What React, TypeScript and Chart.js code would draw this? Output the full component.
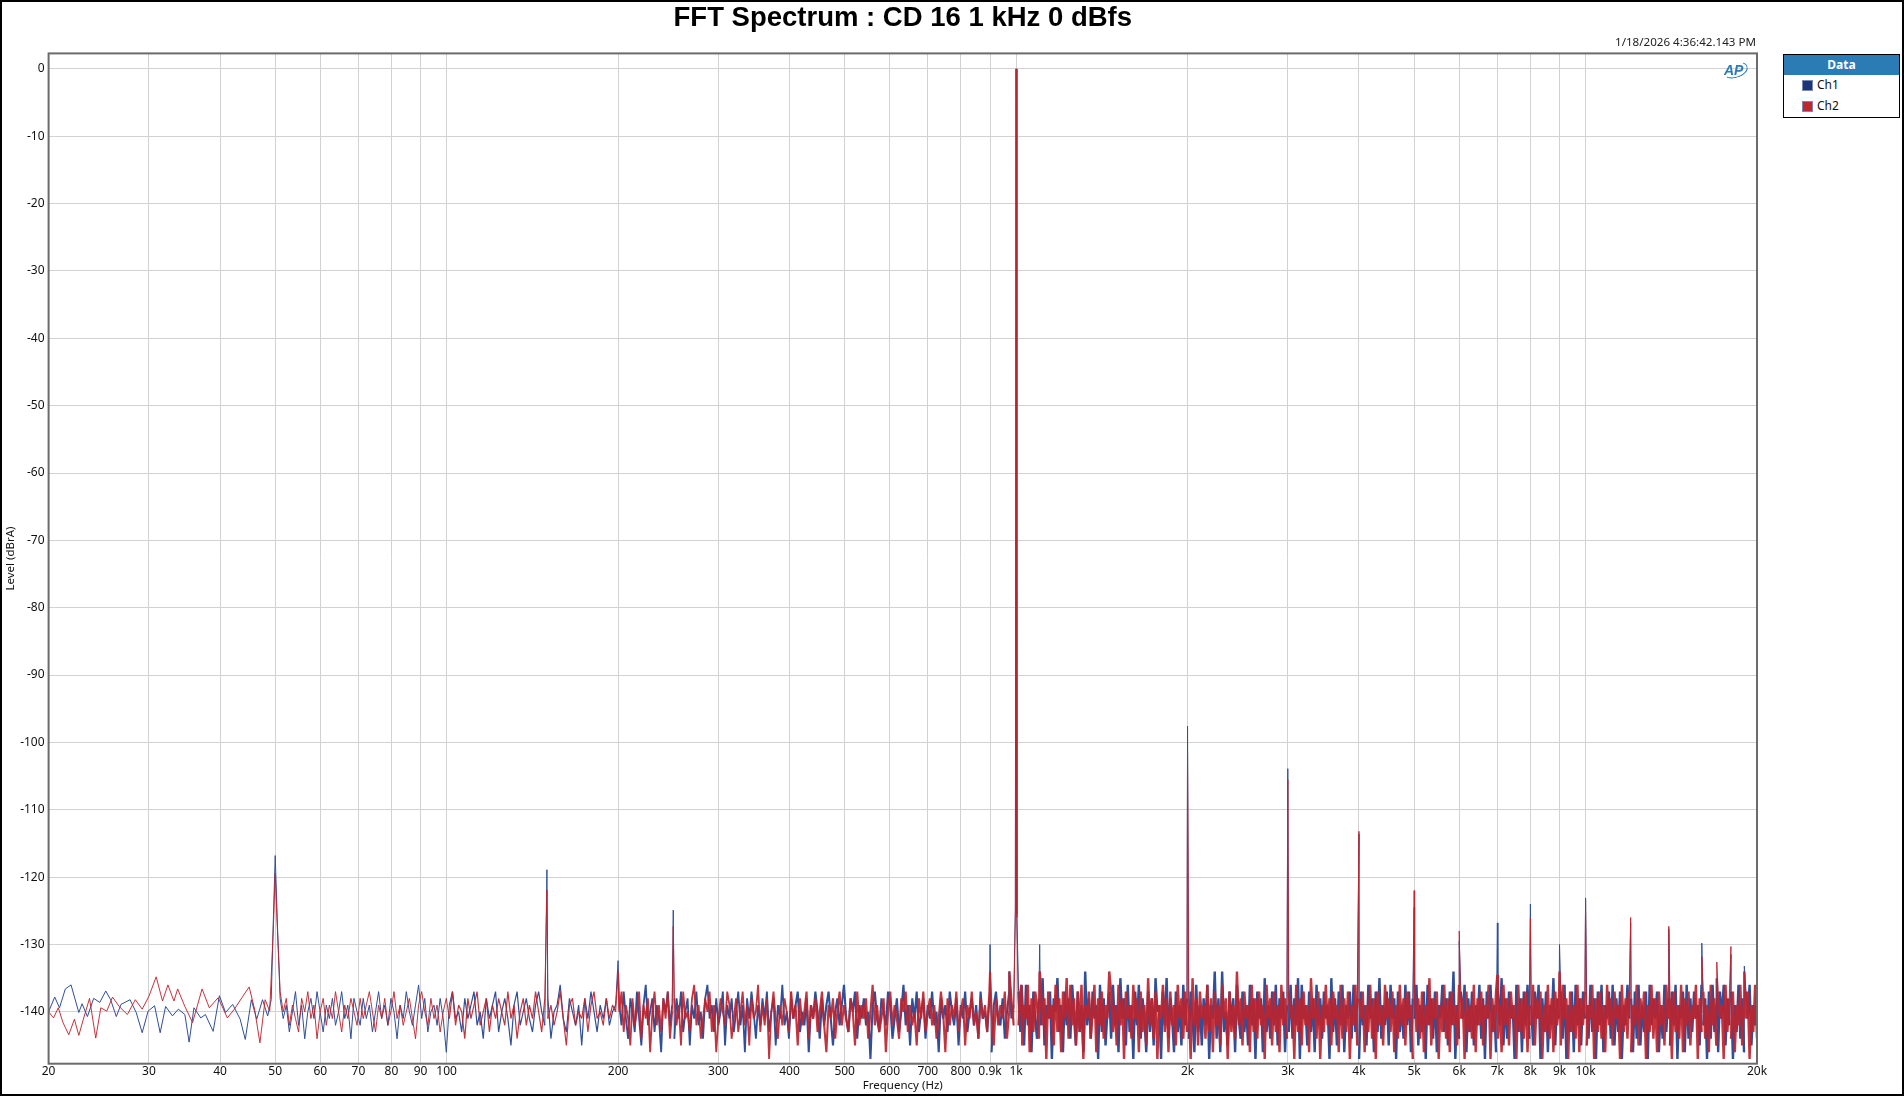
import React, { useEffect, useRef } from "react";
import { Chart, registerables } from "chart.js";

Chart.register(...registerables);

// ---------- axis ticks ----------
const xTickValues = [20, 30, 40, 50, 60, 70, 80, 90, 100, 200, 300, 400, 500, 600, 700, 800, 900, 1000, 2000, 3000, 4000, 5000, 6000, 7000, 8000, 9000, 10000, 20000];
const xTickLabels = ["20", "30", "40", "50", "60", "70", "80", "90", "100", "200", "300", "400", "500", "600", "700", "800", "0.9k", "1k", "2k", "3k", "4k", "5k", "6k", "7k", "8k", "9k", "10k", "20k"];
const yTickValues = [0, -10, -20, -30, -40, -50, -60, -70, -80, -90, -100, -110, -120, -130, -140];

// ---------- low-frequency trace (20–49 Hz), read point by point ----------
const lowFreqCh1 = [20.0, 20.5, 20.9, 21.4, 21.9, 22.6, 22.9, 23.4, 24.0, 24.6, 25.2, 25.7, 26.3, 26.8, 27.8, 28.5, 29.2, 29.9, 30.7, 31.4, 32.1, 33.0, 33.8, 34.7, 35.3, 36.0, 37.0, 37.7, 38.9, 39.9, 40.9, 42.1, 43.4, 44.3, 45.4, 46.4, 47.5, 48.5, 49.2];
const ch1Low = [-140.0, -137.8, -139.4, -136.6, -136.0, -140.1, -138.8, -140.7, -138.0, -138.6, -136.9, -138.2, -140.7, -138.9, -138.2, -140.1, -143.1, -139.9, -139.1, -143.1, -139.2, -140.6, -139.6, -140.4, -144.5, -139.4, -140.9, -140.4, -142.9, -137.6, -140.1, -138.9, -141.1, -144.1, -138.2, -141.1, -138.2, -140.6, -138.2];
const lowFreqCh2 = [20.0, 20.4, 20.8, 21.2, 21.7, 22.2, 22.6, 23.0, 23.6, 24.2, 24.7, 25.3, 25.9, 26.6, 27.5, 28.4, 29.2, 30.0, 30.9, 31.7, 32.4, 33.2, 33.7, 34.7, 35.8, 37.2, 38.3, 39.7, 41.2, 42.4, 43.7, 45.0, 46.0, 47.0, 48.0, 48.9];
const ch2Low = [-140.0, -140.9, -139.4, -141.6, -143.4, -141.1, -143.5, -141.2, -138.0, -143.9, -139.4, -139.9, -137.8, -139.2, -140.4, -138.2, -139.6, -137.7, -134.8, -138.4, -136.0, -138.4, -136.6, -139.2, -141.6, -136.6, -139.4, -137.9, -140.9, -139.6, -137.9, -136.3, -139.6, -144.6, -138.2, -139.9];

// ---------- noise floor, FFT bins per band (levels in dBrA) ----------
const midBand = [51, 198];
const ch1Mid = [
  -138, -141, -139, -143, -140, -137, -142, -139, -144, -140,
  -138, -141, -137, -140, -143, -139, -141, -138, -142, -140,
  -137, -141, -139, -144, -138, -140, -142, -138, -141, -139,
  -143, -140, -137, -141, -139, -142, -138, -140, -144, -139,
  -141, -137, -140, -142, -139, -136, -141, -138, -143, -140,
  -139, -142, -138, -141, -146, -139, -137, -141, -140, -143,
  -138, -141, -139, -137, -142, -140, -144, -138, -141, -139,
  -137, -143, -140, -138, -141, -145, -139, -137, -142, -140,
  -138, -141, -143, -139, -137, -140, -142, -138, -144, -140,
  -139, -136, -141, -143, -138, -140, -142, -139, -145, -138,
  -141, -137, -140, -143, -139, -141, -138, -142, -140, -139,
];
const ch2Mid = [
  -137, -140, -138, -142, -139, -141, -143, -138, -140, -137,
  -141, -139, -144, -140, -138, -142, -139, -141, -137, -140,
  -143, -139, -141, -138, -140, -142, -138, -141, -139, -137,
  -140, -143, -139, -141, -138, -142, -140, -137, -141, -139,
  -142, -140, -138, -141, -144, -139, -137, -140, -142, -138,
  -141, -139, -143, -140, -138, -141, -137, -142, -139, -140,
  -144, -138, -141, -139, -137, -142, -140, -138, -143, -139,
  -141, -138, -140, -142, -137, -141, -139, -144, -140, -138,
  -142, -139, -141, -137, -140, -143, -138, -141, -139, -142,
  -140, -137, -141, -145, -139, -138, -142, -140, -141, -138,
  -143, -139, -137, -141, -140, -142, -138, -141, -139, -140,
];

const highBand = [201, 990];
const ch1High = [
  -139, -142, -137, -141, -144, -138, -140, -143, -137, -141,
  -145, -139, -136, -142, -140, -138, -143, -139, -141, -146,
  -138, -140, -137, -142, -139, -144, -138, -141, -137, -143,
  -140, -138, -145, -139, -141, -137, -142, -140, -144, -138,
  -136, -141, -139, -143, -138, -142, -140, -137, -145, -139,
  -141, -138, -143, -140, -137, -142, -139, -146, -138, -141,
  -137, -140, -144, -139, -142, -138, -141, -137, -143, -140,
  -138, -145, -139, -141, -136, -142, -140, -144, -138, -141,
  -139, -137, -143, -140, -142, -138, -146, -139, -141, -137,
  -140, -144, -138, -142, -139, -137, -141, -145, -140, -138,
  -142, -139, -136, -141, -143, -138, -140, -137, -144, -139,
  -141, -138, -142, -140, -147, -139, -137, -141, -143, -138,
  -140, -142, -137, -139, -144, -141, -138, -143, -140, -136,
  -142, -139, -145, -138, -141, -137, -143, -140, -138, -144,
  -139, -141, -137, -142, -140, -146, -138, -141, -139, -143,
  -137, -140, -142, -138, -145, -139, -141, -137, -143, -140,
  -138, -142, -139, -144, -137, -141, -140, -143, -138, -146,
  -139, -137, -141, -142, -138, -144, -140, -137, -141, -139,
];
const ch2High = [
  -140, -137, -143, -139, -141, -145, -138, -142, -140, -137,
  -144, -139, -141, -138, -146, -140, -137, -142, -139, -143,
  -138, -141, -137, -144, -140, -138, -142, -139, -145, -137,
  -141, -140, -143, -138, -136, -142, -139, -144, -141, -138,
  -140, -137, -143, -139, -146, -141, -138, -140, -142, -137,
  -139, -144, -141, -138, -143, -140, -137, -142, -139, -145,
  -138, -141, -140, -136, -143, -139, -142, -138, -147, -140,
  -137, -141, -144, -139, -142, -138, -140, -143, -137, -141,
  -139, -145, -138, -142, -140, -137, -144, -139, -141, -138,
  -143, -140, -137, -142, -146, -139, -141, -138, -144, -140,
  -137, -142, -139, -141, -143, -138, -140, -145, -137, -142,
  -139, -141, -138, -144, -140, -136, -142, -139, -143, -141,
  -138, -146, -140, -137, -142, -139, -141, -144, -138, -140,
  -137, -143, -139, -142, -140, -145, -138, -141, -137, -143,
  -140, -138, -142, -139, -144, -141, -137, -140, -146, -138,
  -142, -139, -141, -137, -143, -140, -138, -145, -139, -141,
  -137, -142, -140, -144, -138, -141, -139, -143, -137, -140,
  -145, -138, -142, -139, -141, -137, -144, -140, -138, -142,
];

const topBand = [1010, 20000];
const ch1Top = [
  -137, -143, -138, -145, -136, -142, -139, -146, -137, -141,
  -144, -138, -142, -135, -145, -139, -141, -137, -147, -138,
  -140, -135, -143, -139, -146, -137, -142, -138, -144, -136,
  -141, -145, -137, -143, -139, -146, -134, -142, -138, -144,
  -137, -141, -139, -147, -136, -143, -138, -145, -140, -137,
  -144, -136, -142, -139, -146, -135, -141, -138, -145, -136,
  -143, -139, -147, -137, -142, -136, -144, -138, -141, -146,
  -137, -143, -138, -145, -135, -140, -139, -147, -137, -142,
  -135, -144, -138, -141, -146, -137, -143, -139, -145, -136,
  -142, -138, -144, -137, -141, -146, -136, -143, -139, -145,
  -138, -142, -136, -147, -139, -141, -134, -144, -138, -146,
  -134, -143, -140, -145, -137, -142, -138, -146, -136, -141,
  -144, -137, -143, -139, -145, -136, -142, -138, -147, -137,
  -141, -138, -146, -135, -143, -139, -144, -137, -142, -136,
  -145, -138, -141, -137, -146, -139, -143, -136, -144, -138,
  -142, -135, -147, -136, -141, -139, -145, -137, -143, -138,
  -146, -136, -142, -138, -144, -137, -141, -139, -147, -135,
  -143, -138, -145, -137, -142, -136, -146, -139, -141, -137,
  -144, -136, -143, -138, -147, -137, -142, -139, -145, -136,
  -141, -138, -146, -137, -143, -135, -144, -139, -142, -137,
  -145, -136, -141, -138, -147, -137, -143, -139, -144, -136,
  -142, -137, -146, -138, -141, -136, -145, -139, -143, -137,
  -147, -136, -142, -138, -144, -137, -146, -139, -141, -136,
  -143, -138, -145, -137, -142, -134, -147, -139, -144, -137,
  -141, -136, -146, -138, -143, -137, -145, -139, -142, -136,
  -144, -138, -147, -137, -141, -136, -143, -139, -146, -137,
  -142, -135, -145, -138, -144, -137, -141, -139, -147, -136,
  -143, -138, -146, -137, -142, -136, -144, -139, -145, -137,
  -141, -136, -147, -138, -143, -137, -146, -139, -142, -135,
  -145, -138, -141, -137, -144, -136, -147, -139, -143, -137,
  -146, -136, -142, -138, -145, -137, -141, -139, -144, -136,
  -143, -138, -147, -137, -142, -136, -146, -139, -141, -137,
  -144, -136, -145, -138, -143, -137, -147, -139, -142, -136,
  -141, -138, -146, -137, -144, -136, -145, -139, -143, -137,
  -147, -136, -142, -138, -141, -137, -146, -139, -144, -136,
  -143, -138, -145, -137, -142, -136, -147, -139, -141, -137,
  -146, -136, -144, -138, -143, -137, -141, -139, -145, -136,
  -142, -138, -147, -137, -144, -136, -143, -139, -146, -137,
  -141, -136, -145, -138, -142, -137, -147, -139, -143, -136,
  -144, -138, -146, -137, -141, -136, -145, -139, -142, -137,
];
const ch2Top = [
  -142, -137, -145, -139, -141, -136, -146, -138, -143, -137,
  -139, -144, -136, -142, -138, -147, -137, -141, -139, -145,
  -136, -143, -138, -146, -137, -141, -135, -144, -136, -142,
  -138, -145, -137, -143, -136, -147, -139, -141, -137, -144,
  -140, -136, -146, -138, -142, -137, -144, -139, -141, -134,
  -137, -143, -139, -145, -136, -142, -138, -147, -137, -141,
  -139, -144, -136, -141, -138, -146, -137, -143, -139, -145,
  -135, -142, -138, -144, -137, -147, -139, -141, -136, -143,
  -138, -146, -137, -142, -139, -145, -136, -141, -138, -144,
  -137, -143, -139, -147, -135, -142, -138, -145, -137, -141,
  -139, -144, -136, -143, -138, -146, -137, -142, -139, -145,
  -136, -141, -138, -147, -137, -143, -139, -144, -134, -142,
  -138, -145, -137, -141, -139, -146, -136, -143, -138, -144,
  -137, -142, -139, -147, -136, -141, -138, -145, -137, -143,
  -139, -146, -136, -142, -138, -144, -137, -141, -139, -147,
  -136, -143, -138, -145, -137, -142, -139, -146, -135, -141,
  -138, -144, -137, -147, -139, -143, -136, -142, -138, -145,
  -137, -141, -139, -146, -136, -144, -138, -143, -137, -147,
  -139, -142, -136, -145, -138, -141, -137, -146, -139, -143,
  -136, -144, -138, -147, -137, -142, -139, -145, -136, -141,
  -138, -143, -137, -146, -139, -144, -136, -142, -138, -145,
  -137, -141, -139, -147, -136, -143, -138, -144, -137, -146,
  -139, -142, -135, -145, -138, -141, -137, -147, -139, -143,
  -136, -144, -138, -146, -137, -142, -139, -145, -136, -141,
  -138, -147, -137, -143, -139, -144, -136, -146, -138, -142,
  -137, -145, -139, -141, -136, -147, -138, -143, -137, -144,
  -139, -146, -136, -142, -138, -145, -137, -141, -139, -147,
  -136, -143, -138, -144, -137, -146, -139, -142, -136, -145,
  -138, -141, -137, -147, -139, -143, -136, -144, -138, -146,
  -137, -142, -139, -145, -136, -141, -138, -147, -137, -143,
  -139, -144, -136, -146, -138, -142, -137, -145, -139, -141,
  -136, -147, -138, -143, -137, -144, -139, -146, -136, -142,
  -138, -145, -137, -141, -139, -147, -136, -143, -138, -144,
  -137, -146, -139, -142, -136, -145, -138, -141, -137, -147,
  -139, -143, -136, -144, -138, -146, -137, -142, -139, -145,
  -136, -141, -138, -147, -137, -143, -139, -144, -136, -146,
  -138, -142, -137, -145, -139, -141, -136, -147, -138, -143,
  -137, -144, -139, -146, -136, -142, -138, -145, -137, -141,
  -139, -147, -136, -143, -138, -144, -137, -146, -139, -142,
  -136, -145, -138, -141, -137, -147, -139, -143, -136, -144,
];

// ---------- tones, hum and harmonics ----------
const peakFreqs = [50, 150, 200, 250, 900, 973, 1000, 1022, 1100, 2000, 3000, 4000, 5000, 6000, 7000, 8000, 9000, 10000, 12000, 14000, 16000, 17000, 18000, 19000];
const ch1Peaks = [-116.8, -118.9, -132.4, -124.9, -130.0, -134.0, 0, -136.0, -130.0, -97.6, -103.9, -113.6, -124.5, -129.5, -126.8, -124.0, -130.0, -123.1, -126.8, -127.7, -129.8, -135.0, -131.5, -133.2];
const ch2Peaks = [-119.5, -121.9, -134.0, -127.3, -134.0, -134.0, 0, -136.0, -134.0, -101.6, -105.5, -113.2, -122.0, -128.0, -134.5, -126.1, -134.0, -123.4, -126.0, -127.3, -131.8, -132.6, -130.3, -134.0];

// skirts of the 50 Hz hum and of the 1 kHz tone
const skirtFreqs = [49.6, 50.4, 997, 1003];
const ch1Skirt = [-127.0, -126.0, -124.6, -125.5];
const ch2Skirt = [-128.0, -127.0, -125.2, -126.0];

const binFrequencies = (band: number[], count: number) =>
  Array.from({ length: count }, (_, i) => band[0] * Math.pow(band[1] / band[0], i / (count - 1)));

function buildSeries(
  lowF: number[], lowL: number[], mid: number[], high: number[], top: number[], peaks: number[], skirt: number[]
) {
  const pts: { x: number; y: number }[] = [];
  lowF.forEach((f, i) => pts.push({ x: f, y: lowL[i] }));
  binFrequencies(midBand, mid.length).forEach((f, i) => pts.push({ x: f, y: mid[i] }));
  binFrequencies(highBand, high.length).forEach((f, i) => pts.push({ x: f, y: high[i] }));
  binFrequencies(topBand, top.length).forEach((f, i) => pts.push({ x: f, y: top[i] }));
  peakFreqs.forEach((f, i) => pts.push({ x: f, y: peaks[i] }));
  skirtFreqs.forEach((f, i) => pts.push({ x: f, y: skirt[i] }));
  pts.sort((a, b) => a.x - b.x);
  return pts;
}

const ch1Points = buildSeries(lowFreqCh1, ch1Low, ch1Mid, ch1High, ch1Top, ch1Peaks, ch1Skirt);
const ch2Points = buildSeries(lowFreqCh2, ch2Low, ch2Mid, ch2High, ch2Top, ch2Peaks, ch2Skirt);

const CH1_COLOR = "#2f4f9a";
const CH2_COLOR = "rgba(190,36,46,0.92)";
const FONT = '"Noto Sans", "DejaVu Sans", sans-serif';

const PLOT_LEFT = 48.6;
const PLOT_TOP = 53.4;
const PLOT_RIGHT = 1757;
const PLOT_BOTTOM = 1063.7;
const W = 1904;
const H = 1096;

// the analyser draws many bins per pixel column in the upper bands: the
// noise-floor segments are stroked wider there, spikes stay hairline.
const segmentWidth = (ctx: any) => {
  const a = ctx.p0.parsed;
  const b = ctx.p1.parsed;
  if (Math.max(a.y, b.y) > -133.8) return 1;
  const f = Math.min(a.x, b.x);
  if (f >= 1000) return 2.4;
  if (f >= 400) return 2.1;
  if (f >= 200) return 1.8;
  if (f >= 100) return 1.2;
  return 1;
};

const framePlugin = {
  id: "plotFrame",
  afterDraw(chart: any) {
    const { ctx, chartArea } = chart;
    ctx.save();
    ctx.strokeStyle = "#6b6b6b";
    ctx.lineWidth = 2;
    ctx.strokeRect(chartArea.left, chartArea.top, chartArea.right - chartArea.left, chartArea.bottom - chartArea.top);
    ctx.restore();
  },
};

export default function App() {
  const canvasRef = useRef<HTMLCanvasElement>(null);

  useEffect(() => {
    const canvas = canvasRef.current;
    if (!canvas) return;
    const chart = new Chart(canvas, {
      type: "line",
      data: {
        datasets: [
          {
            label: "Ch2",
            data: ch2Points,
            borderColor: CH2_COLOR,
            backgroundColor: CH2_COLOR,
            borderWidth: 1,
            borderJoinStyle: "bevel",
            pointRadius: 0,
            tension: 0,
            order: 0,
            segment: { borderWidth: segmentWidth },
          },
          {
            label: "Ch1",
            data: ch1Points,
            borderColor: CH1_COLOR,
            backgroundColor: CH1_COLOR,
            borderWidth: 1,
            borderJoinStyle: "bevel",
            pointRadius: 0,
            tension: 0,
            order: 1,
            segment: { borderWidth: segmentWidth },
          },
        ],
      },
      options: {
        animation: false,
        responsive: false,
        parsing: false,
        normalized: true,
        events: [],
        layout: { padding: { left: 0, top: PLOT_TOP, right: W - PLOT_RIGHT, bottom: 0 } },
        plugins: { legend: { display: false }, tooltip: { enabled: false }, title: { display: false } },
        scales: {
          x: {
            type: "logarithmic",
            min: 20,
            max: 20000,
            afterBuildTicks: (s: any) => {
              s.ticks = xTickValues.map((v) => ({ value: v }));
            },
            afterFit: (s: any) => {
              s.height = H - PLOT_BOTTOM;
            },
            ticks: {
              autoSkip: false,
              maxRotation: 0,
              padding: 1,
              color: "#111",
              font: { family: FONT, size: 12 },
              callback: (v: any) => xTickLabels[xTickValues.indexOf(Number(v))] ?? "",
            },
            grid: { color: "#d2d2d2", lineWidth: 1, drawTicks: false },
            border: { display: false },
            title: {
              display: true,
              text: "Frequency (Hz)",
              color: "#111",
              font: { family: FONT, size: 11.5 },
              padding: { top: 0, bottom: 3 },
            },
          },
          y: {
            type: "linear",
            min: -147.7,
            max: 2.3,
            afterBuildTicks: (s: any) => {
              s.ticks = yTickValues.map((v) => ({ value: v }));
            },
            afterFit: (s: any) => {
              s.width = PLOT_LEFT;
            },
            ticks: {
              padding: 4,
              color: "#111",
              font: { family: FONT, size: 12 },
              callback: (v: any) => String(v),
            },
            grid: { color: "#d2d2d2", lineWidth: 1, drawTicks: false },
            border: { display: false },
            title: {
              display: true,
              text: "Level (dBrA)",
              color: "#111",
              font: { family: FONT, size: 11.5 },
              padding: { top: 4, bottom: 0 },
            },
          },
        },
      },
      plugins: [framePlugin],
    } as any);
    return () => chart.destroy();
  }, []);

  return (
    <div style={{ position: "absolute", left: 0, top: 0, width: W, height: H, background: "#fff", overflow: "hidden" }}>
      <canvas ref={canvasRef} width={W} height={H} style={{ position: "absolute", left: 0, top: 0, display: "block" }} />
      <div
        style={{
          position: "absolute",
          left: PLOT_LEFT,
          width: PLOT_RIGHT - PLOT_LEFT,
          top: 1,
          textAlign: "center",
          fontFamily: '"Liberation Sans", Arial, sans-serif',
          fontWeight: "bold",
          fontSize: 27.5,
          lineHeight: "32px",
          color: "#000",
        }}
      >
        FFT Spectrum : CD 16 1 kHz 0 dBfs
      </div>
      <div
        style={{
          position: "absolute",
          left: 1400,
          width: PLOT_RIGHT - 1 - 1400,
          top: 34,
          textAlign: "right",
          fontFamily: FONT,
          fontSize: 11.6,
          lineHeight: "16px",
          color: "#222",
          whiteSpace: "nowrap",
        }}
      >
        1/18/2026 4:36:42.143 PM
      </div>
      <div
        style={{
          position: "absolute",
          left: 1722,
          top: 61,
          width: 28,
          height: 18,
          color: "#2b7bb9",
          fontFamily: '"Liberation Sans", Arial, sans-serif',
          fontStyle: "italic",
          fontWeight: "bold",
          fontSize: 14,
          lineHeight: "18px",
        }}
      >
        <span style={{ position: "absolute", left: 2, top: 0 }}>AP</span>
        <div
          style={{
            position: "absolute",
            left: 0,
            top: 1,
            width: 24,
            height: 14,
            borderRadius: "50%",
            border: "1.5px solid #2b7bb9",
            borderLeftColor: "transparent",
            borderTopColor: "transparent",
            transform: "rotate(-15deg)",
          }}
        />
      </div>
      <div
        style={{
          position: "absolute",
          left: 1783,
          top: 54,
          width: 117,
          height: 64,
          border: "1.5px solid #000",
          boxSizing: "border-box",
          background: "#fff",
          fontFamily: FONT,
          fontSize: 12,
        }}
      >
        <div style={{ background: "#2b7bb5", color: "#fff", fontWeight: "bold", textAlign: "center", height: 20, lineHeight: "20px" }}>
          Data
        </div>
        {[
          { label: "Ch1", color: "#1d3577" },
          { label: "Ch2", color: "#c0262a" },
        ].map((it, i) => (
          <div key={it.label} style={{ position: "absolute", left: 18, top: 23 + i * 21, height: 14, display: "flex", alignItems: "center" }}>
            <span style={{ display: "inline-block", width: 11, height: 11, background: it.color, border: "1px solid #7a8ab0", boxSizing: "border-box" }} />
            <span style={{ marginLeft: 4, color: "#111", lineHeight: "14px" }}>{it.label}</span>
          </div>
        ))}
      </div>
      <div
        style={{
          position: "absolute",
          left: 0,
          top: 0,
          width: W,
          height: H,
          border: "2px solid #000",
          boxSizing: "border-box",
          pointerEvents: "none",
        }}
      />
    </div>
  );
}
